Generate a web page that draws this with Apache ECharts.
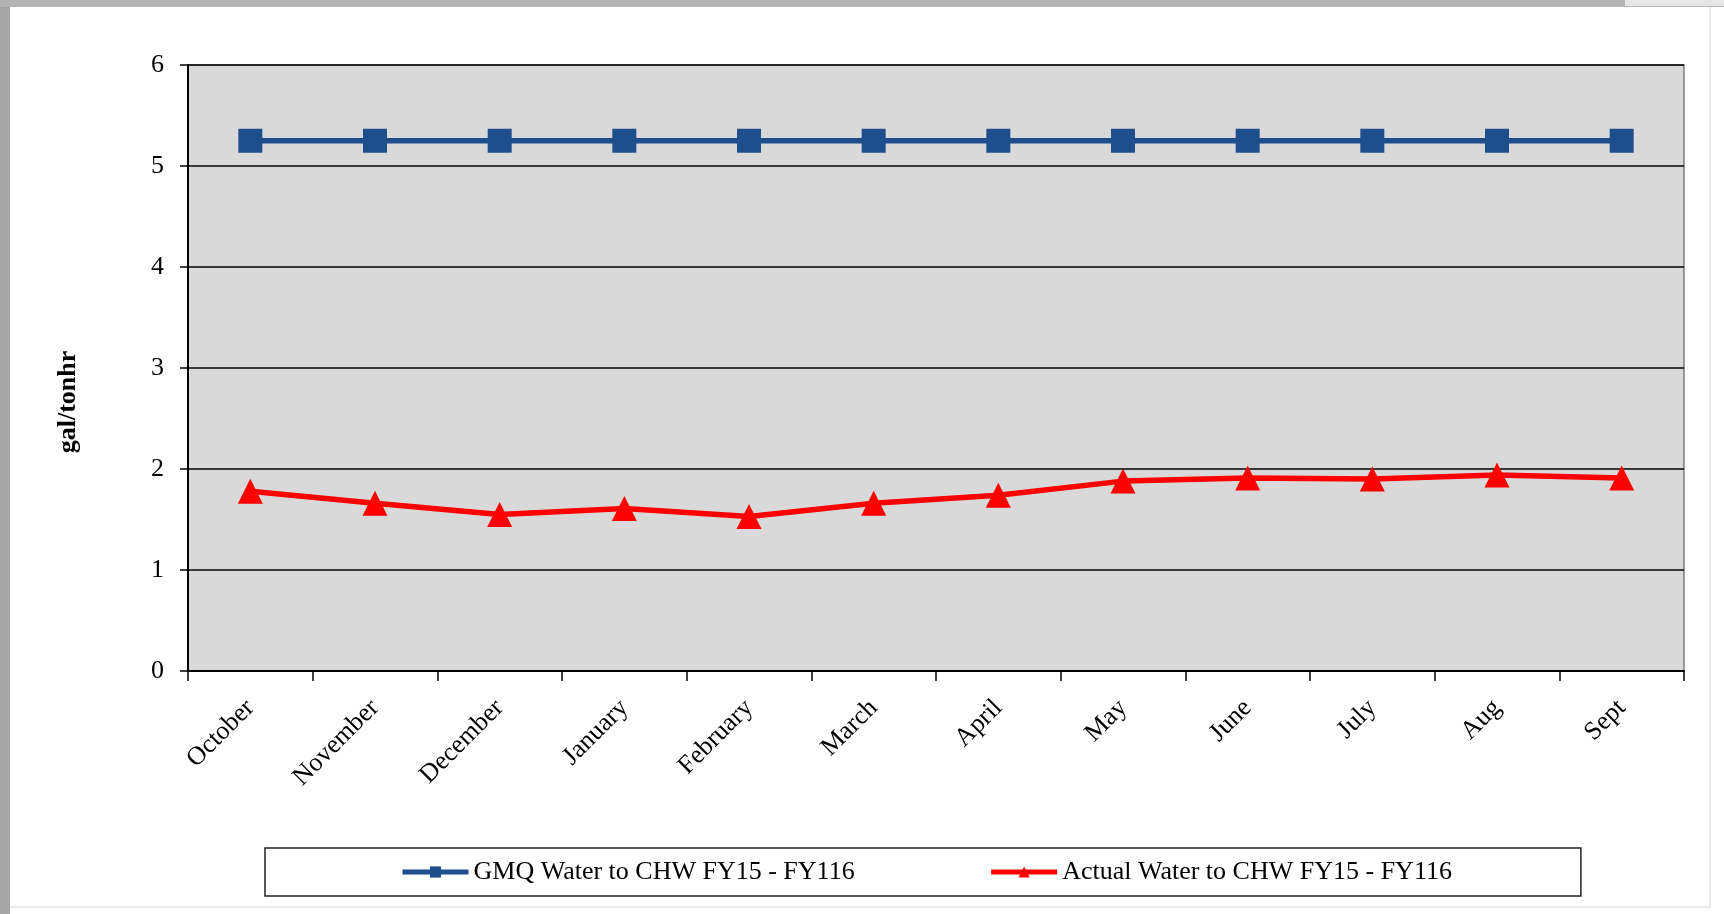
<!DOCTYPE html>
<html>
<head>
<meta charset="utf-8">
<script src="https://cdn.jsdelivr.net/npm/echarts@6/dist/echarts.min.js"></script>
<style>
html,body{margin:0;padding:0;background:#fff;}
#chart{width:1724px;height:914px;}
</style>
</head>
<body>
<div id="chart"></div>
<script>
const months = ["October","November","December","January","February","March","April","May","June","July","Aug","Sept"];
const gmqWater = [5.25,5.25,5.25,5.25,5.25,5.25,5.25,5.25,5.25,5.25,5.25,5.25];
const actualWater = [1.78,1.66,1.55,1.61,1.53,1.66,1.74,1.88,1.91,1.90,1.94,1.91];
const yTicks = [0,1,2,3,4,5,6];
const seriesNames = ["GMQ Water to CHW FY15 - FY116","Actual Water to CHW FY15 - FY116"];
const yTitle = "gal/tonhr";

const serif = "'Liberation Serif','Times New Roman',serif";
const chart = echarts.init(document.getElementById('chart'), null, {renderer:'canvas'});
chart.setOption({
  animation:false,
  backgroundColor:'#ffffff',
  grid:{left:188, right:40, top:65, bottom:243, show:true, backgroundColor:'#d9d9d9', borderColor:'#808080', borderWidth:1.5},
  graphic:[
    {type:'rect', shape:{x:0,y:0,width:10,height:914}, style:{fill:'#a6a6a6'}, silent:true},
    {type:'rect', shape:{x:0,y:0,width:1724,height:7}, style:{fill:'#b4b4b4'}, silent:true},
    {type:'rect', shape:{x:1625,y:0,width:99,height:6}, style:{fill:'#e6e6e6'}, silent:true},
    {type:'line', shape:{x1:1710,y1:7,x2:1710,y2:907}, style:{stroke:'#ececec', lineWidth:2}, silent:true},
    {type:'line', shape:{x1:10,y1:907,x2:1710,y2:907}, style:{stroke:'#ececec', lineWidth:2}, silent:true},
    {type:'text', x:68, y:402, rotation:Math.PI/2,
      style:{text:yTitle, font:"bold 26px "+serif, fill:'#000', align:'center', verticalAlign:'middle'}}
  ],
  legend:{
    left:265, top:848,
    padding:[11,129,11,135],
    borderColor:'#222', borderWidth:1.5,
    itemWidth:66, itemHeight:14, itemGap:134,
    lineStyle:{width:5},
    textStyle:{fontFamily:serif, fontSize:26, color:'#000'},
    data:[seriesNames[0], seriesNames[1]]
  },
  xAxis:{
    type:'category', data:months, boundaryGap:true,
    axisLine:{lineStyle:{color:'#000', width:2}},
    axisTick:{show:true, length:10, inside:false, lineStyle:{color:'#000', width:1.5}},
    axisLabel:{rotate:45, fontFamily:serif, fontSize:26, color:'#000', margin:33, interval:0},
    splitLine:{show:false}
  },
  yAxis:{
    type:'value', min:0, max:6, interval:1,
    axisLine:{show:true, lineStyle:{color:'#000', width:2}},
    axisTick:{show:true, length:8, inside:false, lineStyle:{color:'#000', width:1.5}},
    axisLabel:{fontFamily:serif, fontSize:26, color:'#000', margin:24,
      formatter:function(v){return yTicks.indexOf(v)>=0?String(v):'';}},
    splitLine:{show:true, lineStyle:{color:'#000', width:1.5}}
  },
  series:[
    {name:seriesNames[0], type:'line', data:gmqWater,
      symbol:'rect', symbolSize:24,
      lineStyle:{color:'#1f4e8c', width:5.5},
      itemStyle:{color:'#1f4e8c'}},
    {name:seriesNames[1], type:'line', data:actualWater,
      symbol:'triangle', symbolSize:25,
      lineStyle:{color:'#ff0000', width:5.5},
      itemStyle:{color:'#ff0000'}}
  ]
});
</script>
</body>
</html>
